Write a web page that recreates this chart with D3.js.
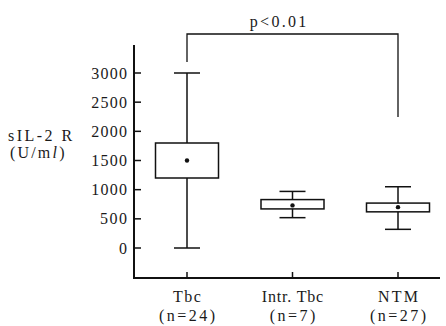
<!DOCTYPE html>
<html>
<head>
<meta charset="utf-8">
<script src="https://cdn.jsdelivr.net/npm/d3@7"></script>
<style>
  body { margin: 0; background: #fff; }
  text { font-family: "Liberation Serif", serif; fill: #1a1a1a; }
</style>
</head>
<body>
<div id="chart"></div>
<script>
// groups and their summary values (U/ml)
const groups = ["Tbc", "Intr. Tbc", "NTM"];
const groupN = ["(n=24)", "(n=7)", "(n=27)"];
const whiskerLow = [0, 520, 320];
const boxLow = [1200, 670, 620];
const meanVal = [1500, 730, 700];
const boxHigh = [1800, 830, 770];
const whiskerHigh = [3000, 970, 1050];
const yTicks = [0, 500, 1000, 1500, 2000, 2500, 3000];

const W = 446, H = 326;
const svg = d3.select("#chart").append("svg")
    .attr("width", W).attr("height", H);

// the printed font sets wider than Liberation Serif, so open the spacing up
function widen(sel, k) {
    sel.each(function() {
        const len = this.getComputedTextLength();
        d3.select(this)
            .attr("textLength", len * k)
            .attr("lengthAdjust", "spacing");
    });
}

const x = d3.scalePoint()
    .domain(groups)
    .range([187, 398]);

const y = d3.scaleLinear()
    .domain([0, 3000])
    .range([248, 73]);

const axisLeftX = 134, axisBottomY = 278, axisTopY = 45, axisRightX = 440;
const ink = "#111";

// axes
svg.append("line")
    .attr("x1", axisLeftX).attr("x2", axisLeftX)
    .attr("y1", axisTopY).attr("y2", axisBottomY + 1)
    .style("stroke", ink).style("stroke-width", 2);
svg.append("line")
    .attr("x1", axisLeftX - 1).attr("x2", axisRightX)
    .attr("y1", axisBottomY).attr("y2", axisBottomY)
    .style("stroke", ink).style("stroke-width", 2);

// y ticks (inward)
svg.selectAll("line.ytick")
    .data(yTicks)
    .enter().append("line")
    .attr("class", "ytick")
    .attr("x1", axisLeftX).attr("x2", axisLeftX + 7)
    .attr("y1", d => y(d)).attr("y2", d => y(d))
    .style("stroke", ink).style("stroke-width", 1.5);

svg.selectAll("text.ylab")
    .data(yTicks)
    .enter().append("text")
    .attr("class", "ylab")
    .attr("x", axisLeftX - 7)
    .attr("y", d => y(d) + 5.5)
    .attr("text-anchor", "end")
    .style("font-size", "16px")
    .text(d => d)
    .call(widen, 1.12);

// x ticks (inward)
svg.selectAll("line.xtick")
    .data(groups)
    .enter().append("line")
    .attr("class", "xtick")
    .attr("x1", d => x(d)).attr("x2", d => x(d))
    .attr("y1", axisBottomY).attr("y2", axisBottomY - 6)
    .style("stroke", ink).style("stroke-width", 1.5);

svg.selectAll("text.xlab")
    .data(groups)
    .enter().append("text")
    .attr("class", "xlab")
    .attr("x", d => x(d))
    .attr("y", 302)
    .attr("text-anchor", "middle")
    .style("font-size", "16px")
    .text(d => d)
    .call(widen, 1.12);

svg.selectAll("text.nlab")
    .data(groups)
    .enter().append("text")
    .attr("class", "nlab")
    .attr("x", d => x(d))
    .attr("y", 321)
    .attr("text-anchor", "middle")
    .style("font-size", "16px")
    .text((d, i) => groupN[i])
    .call(widen, 1.28);

// y label
svg.append("text")
    .attr("x", 8).attr("y", 141)
    .style("font-size", "16px")
    .text("sIL-2 R")
    .call(widen, 1.3);
const unit = svg.append("text")
    .attr("x", 10).attr("y", 158)
    .style("font-size", "16px");
unit.append("tspan").text("(U/m");
unit.append("tspan").style("font-style", "italic").text("l");
unit.append("tspan").text(")");
unit.call(widen, 1.25);

// boxes
const boxW = 63;
const capHalf = 13;
const boxes = svg.selectAll("g.box")
    .data(groups)
    .enter().append("g")
    .attr("class", "box");

boxes.append("line")
    .attr("x1", d => x(d)).attr("x2", d => x(d))
    .attr("y1", (d, i) => y(whiskerHigh[i])).attr("y2", (d, i) => y(whiskerLow[i]))
    .style("stroke", ink).style("stroke-width", 1.5);

boxes.append("line")
    .attr("x1", d => x(d) - capHalf).attr("x2", d => x(d) + capHalf)
    .attr("y1", (d, i) => y(whiskerHigh[i])).attr("y2", (d, i) => y(whiskerHigh[i]))
    .style("stroke", ink).style("stroke-width", 1.5);

boxes.append("line")
    .attr("x1", d => x(d) - capHalf).attr("x2", d => x(d) + capHalf)
    .attr("y1", (d, i) => y(whiskerLow[i])).attr("y2", (d, i) => y(whiskerLow[i]))
    .style("stroke", ink).style("stroke-width", 1.5);

boxes.append("rect")
    .attr("x", d => x(d) - boxW / 2)
    .attr("width", boxW)
    .attr("y", (d, i) => y(boxHigh[i]))
    .attr("height", (d, i) => y(boxLow[i]) - y(boxHigh[i]))
    .style("fill", "#fff")
    .style("stroke", ink).style("stroke-width", 1.5);

boxes.append("circle")
    .attr("cx", d => x(d))
    .attr("cy", (d, i) => y(meanVal[i]))
    .attr("r", 2.2)
    .style("fill", ink);

// significance bracket Tbc vs NTM
const bracketY = 34;
svg.append("path")
    .attr("d", `M${x("Tbc")},62 V${bracketY} H${x("NTM")} V117`)
    .style("fill", "none")
    .style("stroke", ink).style("stroke-width", 1.3);

svg.append("text")
    .attr("x", 278)
    .attr("y", 27)
    .attr("text-anchor", "middle")
    .style("font-size", "16px")
    .text("p<0.01")
    .call(widen, 1.25);
</script>
</body>
</html>
